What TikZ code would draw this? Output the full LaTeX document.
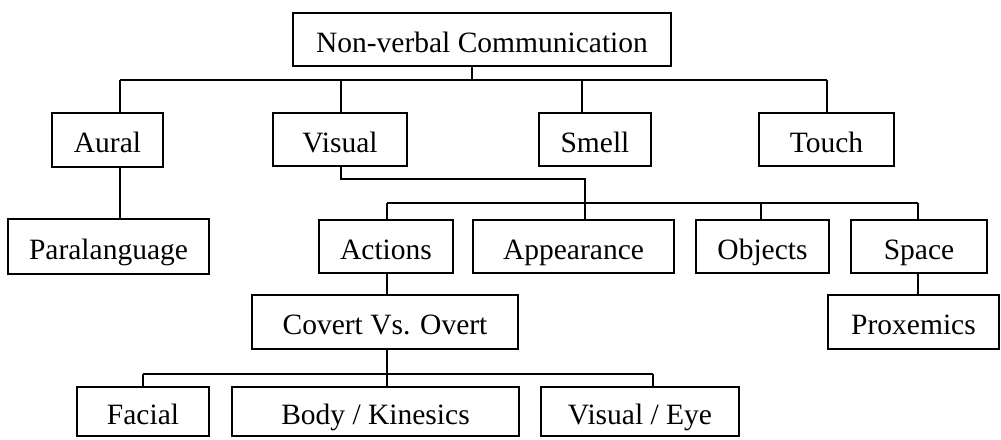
\documentclass[tikz,border=0pt]{standalone}
\usepackage{fontspec}
\setmainfont{Liberation Serif}
\begin{document}
\begin{tikzpicture}[x=1pt,y=-1pt,
  box/.style={draw,line width=1.4pt,inner sep=0pt,minimum height=53pt,text height=27pt,text depth=2pt,font=\fontsize{29.5}{34}\selectfont},
  link/.style={line width=1.4pt}]
\useasboundingbox (0,0) rectangle (1001,439);
% level 0
\node[box,minimum width=378pt] (top) at (482,39.5) {Non-verbal Communication};
% level 1
\node[box,minimum width=111pt,minimum height=54pt] (aural) at (107.5,140) {Aural};
\node[box,minimum width=134pt] (visual) at (340,139.5) {Visual};
\node[box,minimum width=112pt] (smell) at (595,139.5) {Smell};
\node[box,minimum width=135pt] (touch) at (826.5,139.5) {Touch};
% level 2
\node[box,minimum width=201pt,minimum height=55pt] (para) at (108.5,246.5) {Paralanguage};
\node[box,minimum width=134pt] (actions) at (386,246.5) {Actions};
\node[box,minimum width=201pt] (appear) at (573.5,246.5) {Appearance};
\node[box,minimum width=133pt] (objects) at (762.5,246.5) {Objects};
\node[box,minimum width=136pt] (space) at (919,246.5) {Space};
% level 3
\node[box,minimum width=266pt,minimum height=54pt] (covert) at (385,322) {Covert Vs. Overt};
\node[box,minimum width=171pt,minimum height=54pt] (prox) at (913.5,322) {Proxemics};
% level 4
\node[box,minimum width=132pt,minimum height=49pt] (facial) at (143,411.5) {Facial};
\node[box,minimum width=287pt,minimum height=49pt] (body) at (375.5,411.5) {Body / Kinesics};
\node[box,minimum width=198pt,minimum height=49pt] (viseye) at (640,411.5) {Visual / Eye};
% junction coordinates
\coordinate (j0) at (472,80);
\coordinate (jA) at (120,80);
\coordinate (jV) at (341,80);
\coordinate (jS) at (582,80);
\coordinate (jT) at (827,80);
\coordinate (v1) at (341,179);
\coordinate (v2) at (585,179);
\coordinate (kA) at (387,203);
\coordinate (kO) at (761,203);
\coordinate (kS) at (918,203);
\coordinate (m0) at (387,374);
\coordinate (mF) at (143,374);
\coordinate (mV) at (653,374);
% connectors
\draw[link] (j0 |- top.south) -- (j0);
\draw[link] (jA) -- (jT);
\draw[link] (jA) -- (jA |- aural.north);
\draw[link] (jV) -- (jV |- visual.north);
\draw[link] (jS) -- (jS |- smell.north);
\draw[link] (jT) -- (jT |- touch.north);
\draw[link] (jA |- aural.south) -- (jA |- para.north);
\draw[link] (v1 |- visual.south) -- (v1) -- (v2) -- (v2 |- appear.north);
\draw[link] (kA) -- (kS);
\draw[link] (kA) -- (kA |- actions.north);
\draw[link] (kO) -- (kO |- objects.north);
\draw[link] (kS) -- (kS |- space.north);
\draw[link] (kA |- actions.south) -- (kA |- covert.north);
\draw[link] (kS |- space.south) -- (kS |- prox.north);
\draw[link] (m0 |- covert.south) -- (m0 |- body.north);
\draw[link] (mF) -- (mV);
\draw[link] (mF) -- (mF |- facial.north);
\draw[link] (mV) -- (mV |- viseye.north);
\end{tikzpicture}
\end{document}
